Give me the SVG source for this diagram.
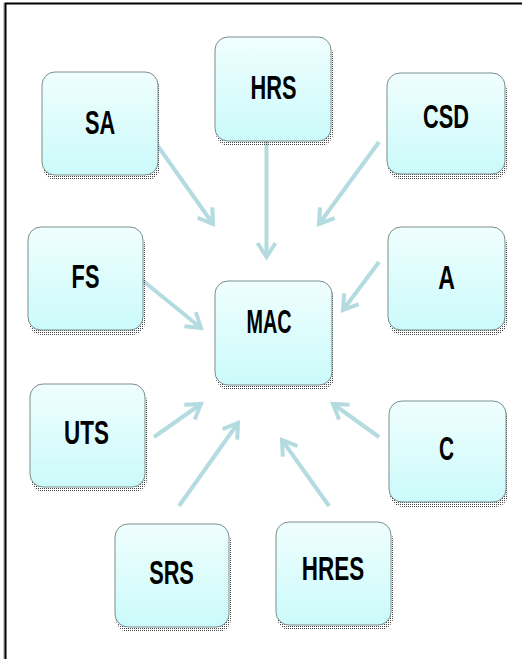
<svg xmlns="http://www.w3.org/2000/svg" width="522" height="659" viewBox="0 0 522 659">
<defs>
<linearGradient id="boxfill" x1="0" y1="0" x2="0" y2="1">
<stop offset="0" stop-color="#F0FEFE"/>
<stop offset="1" stop-color="#CBFAFA"/>
</linearGradient>
<pattern id="dots" width="2" height="2" patternUnits="userSpaceOnUse">
<rect x="0" y="0" width="1" height="1" fill="#444"/>
</pattern>
<marker id="head" markerUnits="userSpaceOnUse" markerWidth="30" markerHeight="30" viewBox="-20 -15 30 30" refX="0" refY="0" orient="auto">
<path d="M-14,-9 L0,0 L-14,9" fill="none" stroke="#B4DCE0" stroke-width="4" stroke-linejoin="miter"/>
</marker>
</defs>
<style>
.shadow{fill:url(#dots);}
.box{fill:url(#boxfill);stroke:#7A8E8E;stroke-width:1;}
.lbl{font-family:"Liberation Sans",Arial,sans-serif;font-weight:bold;font-size:33px;fill:#000;text-anchor:middle;}
.conn line{stroke:#B4DCE0;stroke-width:4;marker-end:url(#head);}
</style>
<rect x="0" y="0" width="522" height="659" fill="#FFFFFF"/>
<path d="M4,660 V3" stroke="#999" stroke-width="1" fill="none"/>
<path d="M5.5,660 V3.5 H523" stroke="#000" stroke-width="2" fill="none"/>

<g id="connectors" class="conn">
<line x1="155" y1="142" x2="213" y2="224"/>
<line x1="266.5" y1="141" x2="266.5" y2="257"/>
<line x1="379" y1="142" x2="319" y2="224"/>
<line x1="142" y1="280" x2="201" y2="328"/>
<line x1="379" y1="262" x2="343" y2="310"/>
<line x1="154" y1="437" x2="201" y2="404"/>
<line x1="179" y1="506" x2="238" y2="423"/>
<line x1="329" y1="506" x2="282" y2="440"/>
<line x1="379" y1="437" x2="333" y2="404"/>
</g>

<g id="node-SA">
<rect class="shadow" x="43" y="77" width="117" height="103" rx="13"/>
<rect class="box" x="42" y="72" width="116" height="103" rx="13"/>
<text class="lbl" transform="translate(100,134) scale(0.66,1)">SA</text>
</g>
<g id="node-HRS">
<rect class="shadow" x="216" y="42" width="117" height="104" rx="13"/>
<rect class="box" x="215" y="37" width="116" height="104" rx="13"/>
<text class="lbl" transform="translate(273.5,99) scale(0.66,1)">HRS</text>
</g>
<g id="node-CSD">
<rect class="shadow" x="388" y="78" width="119" height="101" rx="13"/>
<rect class="box" x="387" y="73" width="118" height="101" rx="13"/>
<text class="lbl" transform="translate(446,128) scale(0.66,1)">CSD</text>
</g>
<g id="node-FS">
<rect class="shadow" x="29" y="232" width="116" height="103" rx="13"/>
<rect class="box" x="28" y="227" width="115" height="103" rx="13"/>
<text class="lbl" transform="translate(85.5,288) scale(0.66,1)">FS</text>
</g>
<g id="node-MAC">
<rect class="shadow" x="216" y="286" width="118" height="104" rx="13"/>
<rect class="box" x="215" y="281" width="117" height="104" rx="13"/>
<text class="lbl" transform="translate(269,333) scale(0.6,1)">MAC</text>
</g>
<g id="node-A">
<rect class="shadow" x="389" y="232" width="118" height="103" rx="13"/>
<rect class="box" x="388" y="227" width="117" height="103" rx="13"/>
<text class="lbl" transform="translate(446.5,289) scale(0.7,1)">A</text>
</g>
<g id="node-UTS">
<rect class="shadow" x="31" y="389" width="116" height="103" rx="13"/>
<rect class="box" x="30" y="384" width="115" height="103" rx="13"/>
<text class="lbl" transform="translate(86.5,444) scale(0.68,1)">UTS</text>
</g>
<g id="node-C">
<rect class="shadow" x="390" y="406" width="118" height="101" rx="13"/>
<rect class="box" x="389" y="401" width="117" height="101" rx="13"/>
<text class="lbl" transform="translate(446.5,460) scale(0.63,1)">C</text>
</g>
<g id="node-SRS">
<rect class="shadow" x="116" y="529" width="115" height="103" rx="13"/>
<rect class="box" x="115" y="524" width="114" height="103" rx="13"/>
<text class="lbl" transform="translate(171.5,584) scale(0.66,1)">SRS</text>
</g>
<g id="node-HRES">
<rect class="shadow" x="277" y="527" width="116" height="103" rx="13"/>
<rect class="box" x="276" y="522" width="115" height="103" rx="13"/>
<text class="lbl" transform="translate(333,580) scale(0.68,1)">HRES</text>
</g>
</svg>
